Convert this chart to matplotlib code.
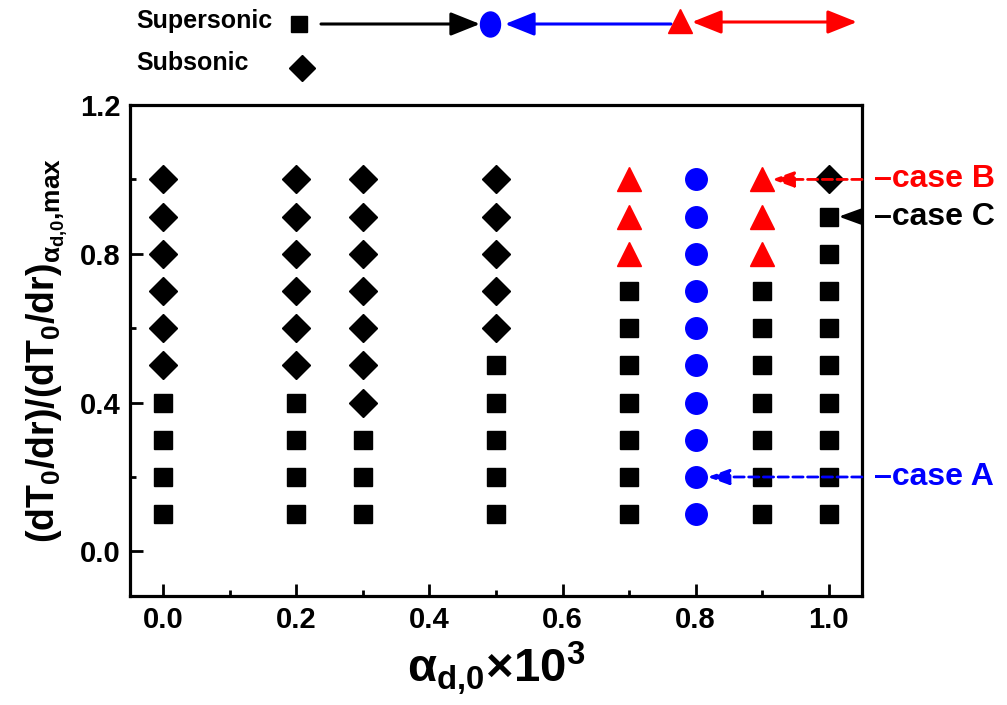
import matplotlib
matplotlib.use('Agg')
import matplotlib.pyplot as plt
from matplotlib.patches import FancyArrowPatch
from matplotlib.path import Path
from matplotlib.transforms import Affine2D
from matplotlib.ticker import MultipleLocator

plt.rcParams['font.family'] = ['Liberation Sans', 'DejaVu Sans']
plt.rcParams['font.weight'] = 'bold'
plt.rcParams['axes.labelweight'] = 'bold'
plt.rcParams['mathtext.fontset'] = 'custom'
plt.rcParams['mathtext.rm'] = 'Liberation Sans:bold'
plt.rcParams['mathtext.it'] = 'Liberation Sans:bold'
plt.rcParams['mathtext.bf'] = 'Liberation Sans:bold'

# data: one column of runs per alpha_d0, read bottom to top
alpha_d0 = [0.0, 0.2, 0.3, 0.5, 0.7, 0.8, 0.9, 1.0]
grad_ratio = [0.1, 0.2, 0.3, 0.4, 0.5, 0.6, 0.7, 0.8, 0.9, 1.0]
# S = supersonic, D = subsonic, C = circle (blue), T = triangle (red)
regime = ['SSSSDDDDDD', 'SSSSDDDDDD', 'SSSDDDDDDD', 'SSSSSDDDDD',
          'SSSSSSSTTT', 'CCCCCCCCCC', 'SSSSSSSTTT', 'SSSSSSSSSD']

case_labels = ['case B', 'case C', 'case A']
case_points = [(0.915, 1.0), (1.015, 0.9), (0.818, 0.2)]
case_colors = ['red', 'black', 'blue']
case_styles = ['--', '-', '--']

fig = plt.figure(figsize=(10.07, 7.05), dpi=100)
ax = fig.add_axes([0.129, 0.1546, 0.727, 0.6964])

styles = {'S': ('s', 'black', 13), 'D': ('D', 'black', 14),
          'C': ('o', 'blue', 15.5), 'T': ('^', 'red', 17)}
for code, (mk, col, ms) in styles.items():
    xs, ys = [], []
    for a, col_codes in zip(alpha_d0, regime):
        for g, c in zip(grad_ratio, col_codes):
            if c == code:
                xs.append(a)
                ys.append(g)
    ax.plot(xs, ys, linestyle='none', marker=mk, color=col, ms=ms, zorder=3)

ax.set_xlim(-0.05, 1.05)
ax.set_ylim(-0.12, 1.2)
ax.xaxis.set_major_locator(MultipleLocator(0.2))
ax.xaxis.set_minor_locator(MultipleLocator(0.1))
ax.yaxis.set_major_locator(MultipleLocator(0.4))
ax.yaxis.set_minor_locator(MultipleLocator(0.2))
ax.tick_params(which='both', direction='in', width=2, labelsize=21, pad=7)
ax.tick_params(which='major', length=9)
ax.tick_params(which='minor', length=4)
for sp in ax.spines.values():
    sp.set_linewidth(2.3)

ax.set_xlabel(r'α$_{d{,}0}$×10$^3$', fontsize=34, labelpad=4)
ax.set_ylabel(r'(dT$_0$/dr)/(dT$_0$/dr)$_{\alpha_{d{,}0}{,}max}$', fontsize=27, labelpad=7)

# case annotations
for lab, pt, col, ls in zip(case_labels, case_points, case_colors, case_styles):
    ax.annotate('', xy=pt, xytext=(1.05, pt[1]), xycoords='data',
                arrowprops=dict(arrowstyle='-|>,head_length=1.1,head_width=0.4',
                                mutation_scale=12, color=col, lw=2, linestyle=ls,
                                shrinkA=0, shrinkB=0),
                annotation_clip=False, zorder=4)
    ax.text(1.068, pt[1], '–' + lab, color=col, fontsize=23, va='center', ha='left',
            clip_on=False)

# top legend drawn in figure pixels
W, H = 1007, 705
def px(x, y):
    return (x / W, 1 - y / H)

fig.text(*px(136, 21), 'Supersonic', fontsize=18, va='center', ha='left')
fig.text(*px(136, 63), 'Subsonic', fontsize=18, va='center', ha='left')
ell = Path.unit_circle().transformed(Affine2D().scale(0.8, 1.0))
fig.add_artist(plt.Line2D([px(299, 24)[0]], [px(299, 24)[1]], marker='s', color='black',
                          ms=12, transform=fig.transFigure))
fig.add_artist(plt.Line2D([px(302, 68)[0]], [px(302, 68)[1]], marker='D', color='black',
                          ms=13, transform=fig.transFigure))
fig.add_artist(plt.Line2D([px(490, 24)[0]], [px(490, 24)[1]], marker=ell, color='blue',
                          ms=18, transform=fig.transFigure))
fig.add_artist(plt.Line2D([px(680, 21)[0]], [px(680, 21)[1]], marker='^', color='red',
                          ms=17, transform=fig.transFigure))

arrows = [((321, 24), (480, 24), 'black', '-|>'),
          ((671, 24), (505, 24), 'blue', '-|>'),
          ((692, 22), (857, 22), 'red', '<|-|>')]
for a, b, col, st in arrows:
    fig.add_artist(FancyArrowPatch(px(*a), px(*b), transform=fig.transFigure,
                                   arrowstyle=st + ',head_length=1.0,head_width=0.4',
                                   mutation_scale=18, color=col, lw=2.2,
                                   shrinkA=0, shrinkB=0))

fig.savefig('out.png', dpi=100)
